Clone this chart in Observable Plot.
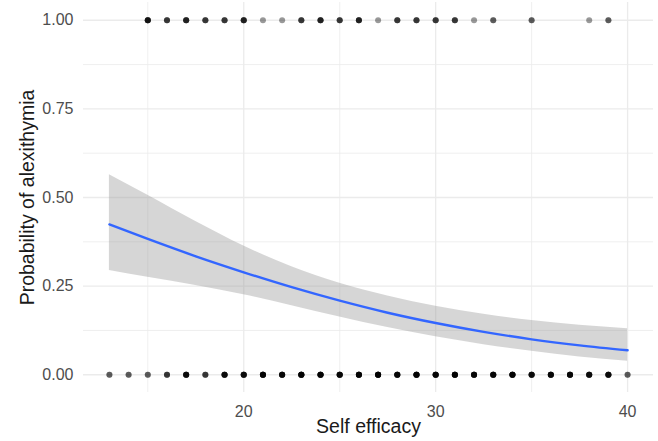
<!DOCTYPE html>
<html>
<head>
<meta charset="utf-8">
<script src="https://cdn.jsdelivr.net/npm/d3@7"></script>
<script src="https://cdn.jsdelivr.net/npm/@observablehq/plot@0.6"></script>
<style>
  html, body { margin: 0; padding: 0; background: #fff; }
  #chart { width: 658px; height: 441px; }
</style>
</head>
<body>
<div id="chart"></div>
<script>
// Observed outcomes (alexithymia = 1) : self-efficacy score and number of overlapping cases
const topX = [15,16,17,18,19,20,21,22,23,24,25,26,27,28,29,30,31,32,33,35,38,39];
const topN = [5,3,4,3,3,4,1,1,3,4,3,4,1,3,3,3,3,1,2,2,1,2];
// Observed outcomes (alexithymia = 0)
const botX = [13,14,15,16,17,18,19,20,21,22,23,24,25,26,27,28,29,30,31,32,33,34,35,36,37,38,39,40];
const botN = [2,2,2,3,6,3,6,6,8,7,9,8,7,8,9,7,8,7,8,7,7,8,6,7,7,6,6,2];

// Fitted logistic curve with confidence band
const fitX  = [13,15,17.5,20,22.5,25,27.5,30,32.5,35,37.5,40];
const fitY  = [0.424,0.383,0.334,0.289,0.247,0.209,0.175,0.146,0.121,0.100,0.083,0.069];
const fitLo = [0.294,0.275,0.252,0.226,0.195,0.163,0.133,0.107,0.085,0.066,0.050,0.038];
const fitHi = [0.564,0.506,0.432,0.363,0.305,0.258,0.222,0.193,0.171,0.153,0.140,0.130];

// Axis ticks
const xMajor = [20,30,40];
const xMinor = [15,25,35];
const yMajor = [0,0.25,0.5,0.75,1];
const yMinor = [0.125,0.375,0.625,0.875];

const obs = [];
topX.forEach((x, i) => { for (let k = 0; k < topN[i]; k++) obs.push({x, y: 1}); });
botX.forEach((x, i) => { for (let k = 0; k < botN[i]; k++) obs.push({x, y: 0}); });
const fit = fitX.map((x, i) => ({x, y: fitY[i], lo: fitLo[i], hi: fitHi[i]}));

const chart = Plot.plot({
  width: 658,
  height: 441,
  marginLeft: 83,
  marginRight: 5,
  marginTop: 2,
  marginBottom: 49,
  style: {fontFamily: "'Liberation Sans', Arial, sans-serif", background: "#fff"},
  x: {domain: [11.65, 41.35]},
  y: {domain: [-0.05, 1.05]},
  marks: [
    Plot.ruleX(xMinor, {stroke: "#ebebeb", strokeWidth: 0.8}),
    Plot.ruleY(yMinor, {stroke: "#ebebeb", strokeWidth: 0.8}),
    Plot.ruleX(xMajor, {stroke: "#ebebeb", strokeWidth: 1.3}),
    Plot.ruleY(yMajor, {stroke: "#ebebeb", strokeWidth: 1.3}),
    Plot.areaY(fit, {x: "x", y1: "lo", y2: "hi", fill: "#999999", fillOpacity: 0.4, curve: "monotone-x"}),
    Plot.line(fit, {x: "x", y: "y", stroke: "#3366FF", strokeWidth: 2.4, curve: "monotone-x"}),
    Plot.dot(obs, {x: "x", y: "y", r: 3, fill: "#000", fillOpacity: 0.4, stroke: null}),
    Plot.axisX(xMajor, {tickSize: 0, tickPadding: 13, fontSize: 16, fill: "#4d4d4d", label: null}),
    Plot.axisY(yMajor, {tickSize: 0, tickPadding: 10, fontSize: 16, fill: "#4d4d4d", label: null, tickFormat: d3.format(".2f")}),
    Plot.text(["Self efficacy"], {frameAnchor: "bottom", dy: 40, fontSize: 19.5, fill: "#1a1a1a"}),
    Plot.text(["Probability of alexithymia"], {frameAnchor: "left", textAnchor: "middle", dx: -56, rotate: -90, fontSize: 19.5, fill: "#1a1a1a"})
  ]
});
document.getElementById("chart").appendChild(chart);
</script>
</body>
</html>
